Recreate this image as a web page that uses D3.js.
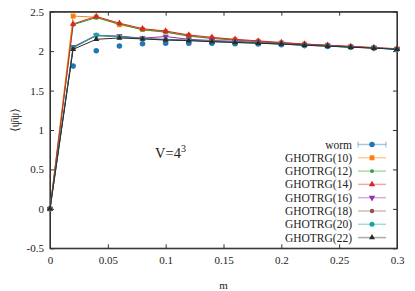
<!DOCTYPE html>
<head>
<meta charset="utf-8">
<title>chiral condensate vs m</title>
<script src="https://d3js.org/d3.v7.min.js"></script>
</head>

<style>
body { margin: 0; background: #fff; }
text { font-family: "Liberation Serif", "DejaVu Serif", serif; fill: #222; }
.axis path, .axis line { stroke: #333; }
</style>

<body>
 <svg class="chart"></svg>
</body>

<script>

// data
var mValues = [0, 0.02, 0.04, 0.06, 0.08, 0.1, 0.12, 0.14, 0.16, 0.18, 0.2, 0.22, 0.24, 0.26, 0.28, 0.3];

var worm    = [0, 1.81, 2.005, 2.065, 2.095, 2.10, 2.10, 2.10, 2.095, 2.09, 2.08, 2.07, 2.06, 2.05, 2.04, 2.025];
var ghotrg10 = [0, 2.445, 2.43, 2.335, 2.275, 2.245, 2.195, 2.165, 2.145, 2.125, 2.105, 2.09, 2.075, 2.06, 2.045, 2.03];
var ghotrg12 = [0, 2.335, 2.425, 2.345, 2.27, 2.24, 2.19, 2.16, 2.14, 2.12, 2.10, 2.085, 2.07, 2.055, 2.04, 2.025];
var ghotrg14 = [0, 2.345, 2.44, 2.355, 2.285, 2.255, 2.205, 2.175, 2.15, 2.13, 2.11, 2.09, 2.075, 2.06, 2.045, 2.03];
var ghotrg16 = [0, 2.055, 2.20, 2.19, 2.165, 2.185, 2.15, 2.135, 2.125, 2.11, 2.095, 2.08, 2.07, 2.055, 2.04, 2.025];
var ghotrg18 = [0, 2.045, 2.195, 2.185, 2.16, 2.15, 2.14, 2.125, 2.115, 2.105, 2.09, 2.075, 2.065, 2.05, 2.04, 2.025];
var ghotrg20 = [0, 2.04, 2.205, 2.18, 2.16, 2.145, 2.135, 2.12, 2.11, 2.10, 2.09, 2.075, 2.065, 2.05, 2.04, 2.025];
var ghotrg22 = [0, 2.023, 2.15, 2.167, 2.155, 2.14, 2.133, 2.12, 2.11, 2.10, 2.09, 2.075, 2.063, 2.05, 2.038, 2.023];

var seriesNames = ["worm", "GHOTRG(10)", "GHOTRG(12)", "GHOTRG(14)", "GHOTRG(16)", "GHOTRG(18)", "GHOTRG(20)", "GHOTRG(22)"];
var seriesValues = [worm, ghotrg10, ghotrg12, ghotrg14, ghotrg16, ghotrg18, ghotrg20, ghotrg22];

var xTicks = [0, 0.05, 0.1, 0.15, 0.2, 0.25, 0.3];
var yTicks = [-0.5, 0, 0.5, 1, 1.5, 2, 2.5];

// look of each series
var colors = ["#1f77b4", "#ff7f0e", "#2ca02c", "#d62728", "#9a2fb5", "#8c564b", "#17a2a8", "#2b2b2b"];
var symbols = [d3.symbolCircle, d3.symbolSquare, d3.symbolCircle, d3.symbolTriangle, d3.symbolTriangle, d3.symbolCircle, d3.symbolCircle, d3.symbolTriangle];
var flipped = [false, false, false, false, true, false, false, false];
var sizes = [24, 24, 12, 18, 18, 16, 20, 16];

//set up chart
var margin = {top: 11.7, right: 18, bottom: 42.7, left: 50};
var W = 415, H = 291;
var width = W - margin.left - margin.right;
var height = H - margin.top - margin.bottom;

var svg = d3.select(".chart")
			.attr("width", W)
			.attr("height", H);

var chart = svg.append("g")
			.attr("transform", "translate(" + margin.left + "," + margin.top + ")");

var x = d3.scaleLinear().domain([0, 0.3]).range([0, width]);
var y = d3.scaleLinear().domain([-0.5, 2.5]).range([height, 0]);

//axes, ticks point inward, mirrored on top and right
var fmt = function(d){ return String(+d.toFixed(2)); };

chart.append("g")
	.attr("class", "axis")
	.attr("transform", "translate(0," + height + ")")
	.call(d3.axisBottom(x).tickValues(xTicks).tickSizeInner(-4).tickSizeOuter(0).tickPadding(8).tickFormat(fmt));

chart.append("g")
	.attr("class", "axis")
	.call(d3.axisLeft(y).tickValues(yTicks).tickSizeInner(-4).tickSizeOuter(0).tickPadding(6).tickFormat(fmt));

chart.append("g")
	.attr("class", "axis")
	.call(d3.axisTop(x).tickValues(xTicks).tickSizeInner(-4).tickSizeOuter(0).tickFormat(""));

chart.append("g")
	.attr("class", "axis")
	.attr("transform", "translate(" + width + ",0)")
	.call(d3.axisRight(y).tickValues(yTicks).tickSizeInner(-4).tickSizeOuter(0).tickFormat(""));

chart.selectAll(".axis")
	.attr("font-family", "Liberation Serif, serif");
chart.selectAll(".axis text")
	.style("font-size", "11px")
	.style("font-family", "Liberation Serif, serif")
	.attr("fill", "#222");

//frame
chart.append("rect")
	.attr("width", width)
	.attr("height", height)
	.attr("fill", "none")
	.attr("stroke", "#333")
	.attr("stroke-width", 1.2);

var line = d3.line()
	.x(function(d){ return x(d[0]); })
	.y(function(d){ return y(d[1]); });

function marker(i) {
	return d3.symbol().type(symbols[i]).size(sizes[i])();
}

seriesValues.forEach(function(vals, i) {
	var pts = mValues.map(function(m, j){ return [m, vals[j]]; });
	var g = chart.append("g");
	if (i > 0) {
		g.append("path")
			.datum(pts)
			.attr("d", line)
			.attr("fill", "none")
			.attr("stroke", colors[i])
			.attr("stroke-width", 1);
	}
	g.selectAll("path.pt")
		.data(pts)
		.enter()
		.append("path")
		.attr("class", "pt")
		.attr("d", marker(i))
		.attr("fill", colors[i])
		.attr("transform", function(d){
			return "translate(" + x(d[0]) + "," + y(d[1]) + ")" + (flipped[i] ? " rotate(180)" : "");
		});
});

//legend
var legend = svg.append("g");
var lx = 352, ly = 144.5, step = 13.3;

seriesNames.forEach(function(name, i) {
	var row = legend.append("g").attr("transform", "translate(0," + (ly + i * step) + ")");
	row.append("text")
		.attr("x", lx)
		.attr("y", 4)
		.attr("text-anchor", "end")
		.style("font-size", "11.5px")
		.text(name);
	row.append("line")
		.attr("x1", lx + 6).attr("x2", lx + 34)
		.attr("stroke", colors[i])
		.attr("stroke-opacity", 0.4)
		.attr("stroke-width", 1.5);
	if (i == 0) {
		row.append("line").attr("x1", lx + 6).attr("x2", lx + 6).attr("y1", -3).attr("y2", 3)
			.attr("stroke", colors[i]).attr("stroke-opacity", 0.5);
		row.append("line").attr("x1", lx + 34).attr("x2", lx + 34).attr("y1", -3).attr("y2", 3)
			.attr("stroke", colors[i]).attr("stroke-opacity", 0.5);
	}
	row.append("path")
		.attr("d", marker(i))
		.attr("fill", colors[i])
		.attr("transform", "translate(" + (lx + 20) + ",0)" + (flipped[i] ? " rotate(180)" : ""));
});

// volume label
var vt = chart.append("text")
	.attr("x", 105)
	.attr("y", 146)
	.style("font-size", "14.5px");
vt.append("tspan").text("V=4");
vt.append("tspan").attr("dy", -6).style("font-size", "10px").text("3");

// axis labels
svg.append("text")
	.attr("transform", "translate(19,120) rotate(-90)")
	.attr("text-anchor", "middle")
	.style("font-size", "11.5px")
	.text("\u27E8\u03C8\u0304\u03C8\u27E9");

svg.append("text")
	.attr("x", margin.left + width / 2)
	.attr("y", 289)
	.attr("text-anchor", "middle")
	.style("font-size", "11px")
	.text("m");

</script>
